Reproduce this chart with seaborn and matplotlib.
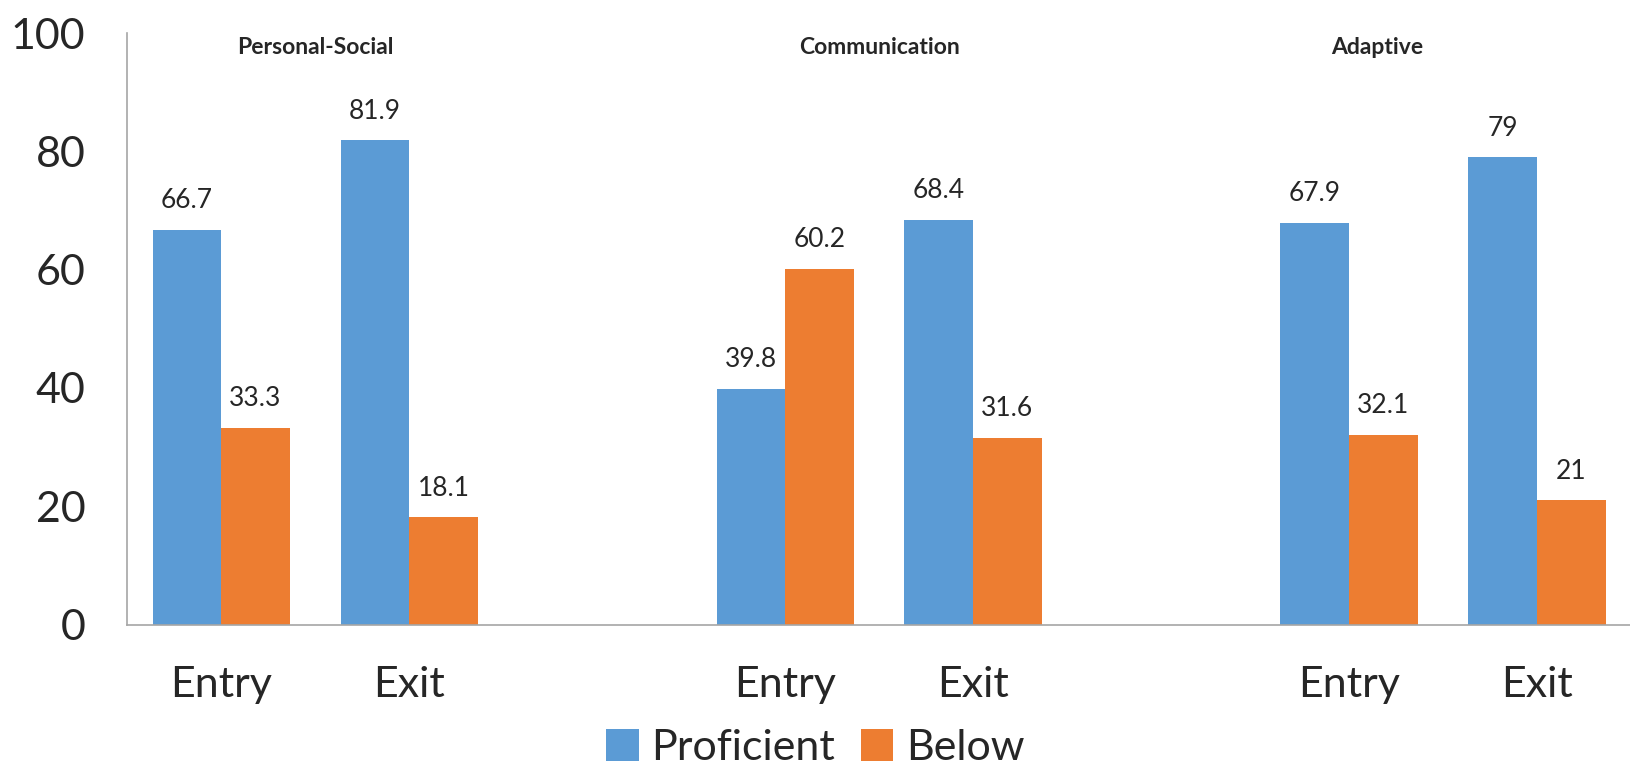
import numpy as np
import pandas as pd
import matplotlib.pyplot as plt
import seaborn as sns

# values
groups = ["Personal-Social", "Communication", "Adaptive"]
stages = ["Entry", "Exit"]
proficient = [66.7, 81.9, 39.8, 68.4, 67.9, 79]
below = [33.3, 18.1, 60.2, 31.6, 32.1, 21]
series = ["Proficient", "Below"]
colors = ["#5B9BD5", "#ED7D31"]

rows = []
i = 0
for g in groups:
    for s in stages:
        rows.append({"slot": f"{g} {s}", "status": "Proficient", "value": proficient[i]})
        rows.append({"slot": f"{g} {s}", "status": "Below", "value": below[i]})
        i += 1
df = pd.DataFrame(rows)

# empty slot between each group
order = []
for k, g in enumerate(groups):
    order += [f"{g} {s}" for s in stages]
    if k < len(groups) - 1:
        order.append(f"gap{k}")
tick_labels = ["" if o.startswith("gap") else o.split(" ")[-1] for o in order]

sns.set_style("white")
plt.rcParams["font.family"] = ["Lato", "DejaVu Sans"]

fig, ax = plt.subplots(figsize=(16.31, 7.71), dpi=100)
fig.subplots_adjust(left=0.078, right=1.0, bottom=0.19, top=0.957)

sns.barplot(data=df, x="slot", y="value", hue="status", order=order,
            hue_order=series, palette=colors, width=0.73, saturation=1,
            edgecolor="none", ax=ax)

for c in ax.containers:
    ax.bar_label(c, fmt="{:g}", padding=12, fontsize=19)

ax.set_ylim(0, 100)
ax.set_xlim(-0.5, len(order) - 0.5)
ax.set_yticks(range(0, 101, 20))
ax.set_xticks(range(len(order)))
ax.set_xticklabels(tick_labels)
ax.tick_params(axis="y", labelsize=31, length=0, pad=30)
ax.tick_params(axis="x", labelsize=31, length=0, pad=30)
ax.set_xlabel("")
ax.set_ylabel("")

# group titles
title_x = [0.5, 3.5, 6.15]
for g, x in zip(groups, title_x):
    ax.text(x, 97.5, g, ha="center", va="center", fontsize=16.5, fontweight="bold")

sns.despine(ax=ax)
for sp in ["left", "bottom"]:
    ax.spines[sp].set_color("#A6A6A6")
    ax.spines[sp].set_linewidth(1.2)

handles, labels = ax.get_legend_handles_labels()
ax.get_legend().remove()
fig.legend(handles, labels, loc="lower center", bbox_to_anchor=(0.5, -0.045),
           ncol=2, frameon=False, fontsize=31, handlelength=0.75,
           handleheight=0.75, handletextpad=0.3, columnspacing=0.6)

plt.savefig("out.png", dpi=100)
